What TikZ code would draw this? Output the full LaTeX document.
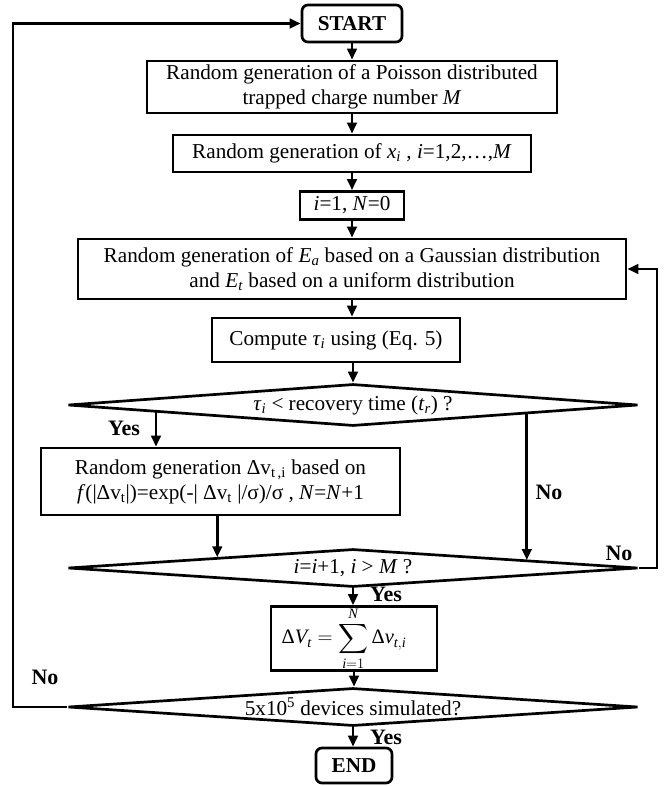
\documentclass[tikz,border=0pt]{standalone}
\usepackage{fontspec}
\usepackage{amsmath}
\setmainfont{Liberation Serif}
\usetikzlibrary{shapes.geometric,arrows.meta,calc}
\begin{document}
\begin{tikzpicture}[x=1pt,y=-1pt, line width=2.7pt,
  font=\fontsize{21.2}{25}\selectfont,
  box/.style={draw, rectangle, inner sep=0pt, align=center},
  term/.style={box, rounded corners=6pt, font=\fontsize{21.2}{25}\selectfont\bfseries},
  dec/.style={draw, diamond, aspect=14, inner sep=0pt, align=center, minimum width=570pt},
  arr/.style={-{Triangle[length=11pt,width=9.5pt]}},
  lab/.style={font=\fontsize{22}{26}\selectfont\bfseries}]
\useasboundingbox (0,0) rectangle (664,786);

\node[term, minimum width=100pt, minimum height=37pt] (start) at (352,23.5) {START};
\node[box, minimum width=410pt, minimum height=52pt] (b1) at (352,87)
  {Random generation of a Poisson distributed\\trapped charge number \textit{M}};
\node[box, minimum width=358pt, minimum height=37pt] (b2) at (352,153.5)
  {Random generation of \textit{x}\textsubscript{\textit{i}} , \textit{i}=1,2,\ldots,\textit{M}};
\node[box, minimum width=104pt, minimum height=28pt] (b3) at (352,205.5)
  {\textit{i}=1, \textit{N}=0};
\node[box, minimum width=548pt, minimum height=60pt] (b4) at (352,269)
  {Random generation of \textit{E}\textsubscript{\textit{a}} based on a Gaussian distribution\\and \textit{E}\textsubscript{\textit{t}} based on a uniform distribution};
\node[box, minimum width=248pt, minimum height=44pt] (b5) at (336,340)
  {Compute \textit{τ}\textsubscript{\textit{i}} using (Eq. 5)};
\node[dec, minimum height=42pt] (d1) at (353,405)
  {\textit{τ}\textsubscript{\textit{i}} < recovery time (\textit{t}\textsubscript{\textit{r}}) ?};
\node[box, minimum width=359pt, minimum height=67pt] (b6) at (220.5,481.5)
  {Random generation Δv\textsubscript{t\,,i} based on\\\textit{f}(|Δv\textsubscript{t}|)=exp(-| Δv\textsubscript{t} |/σ)/σ , \textit{N}=\textit{N}+1};
\node[dec, minimum height=38pt] (d2) at (353,568)
  {\textit{i}=\textit{i}+1, \textit{i} > \textit{M} ?};
\node[box, minimum width=166pt, minimum height=61pt, font=\fontsize{20.5}{24}\selectfont] (b7) at (354,638.5)
  {\raisebox{-3pt}{$\displaystyle \text{Δ}\textit{V}_{\textit{t}} = \sum_{\textit{i}=1}^{\textit{N}}\text{Δ}\textit{v}_{\textit{t},\textit{i}}$}\hspace*{20pt}};
\node[dec, minimum height=38pt] (d3) at (353,707)
  {5x10\textsuperscript{5} devices simulated?};
\node[term, minimum width=76pt, minimum height=35pt] (end) at (354,765.5) {END};

\node[lab] (y1) at (124,428) {Yes};
\node[lab] (n1) at (549,492) {No};
\node[lab] (n2) at (619,553) {No};
\node[lab] (y2) at (386,594) {Yes};
\node[lab] (n3) at (45,677) {No};
\node[lab] (y3) at (386,737) {Yes};

\coordinate (rx) at (657,0);
\coordinate (lx) at (13,0);

\draw[arr] (start.south) -- (start.south |- b1.north);
\draw[arr] (b1.south) -- (b1.south |- b2.north);
\draw[arr] (b2.south) -- (b2.south |- b3.north);
\draw[arr] (b3.south) -- (b3.south |- b4.north);
\draw[arr] (b4.south) -- (b4.south |- b5.north);
\draw[arr] (d1.north |- b5.south) -- (d1.north);

\coordinate (p1) at ($(d1.west)!0.312!(d1.south)$);
\draw[arr] (p1) -- (p1 |- b6.north);
\coordinate (q1) at ($(d2.west)!0.526!(d2.north)$);
\draw[arr] (q1 |- b6.south) -- (q1);
\coordinate (p2) at ($(d1.south)!0.607!(d1.east)$);
\coordinate (q2) at ($(d2.north)!0.607!(d2.east)$);
\draw[arr] (p2) -- (q2);

\draw[arr] (d2.east) -- (d2.east -| rx) |- (b4.east);
\draw[arr] (d2.south) -- (d2.south |- b7.north);
\draw[arr] (b7.south) -- (b7.south |- d3.north);
\draw[arr] (d3.south) -- (d3.south |- end.north);
\draw[arr] (d3.west) -- (d3.west -| lx) |- (start.west);
\end{tikzpicture}
\end{document}
